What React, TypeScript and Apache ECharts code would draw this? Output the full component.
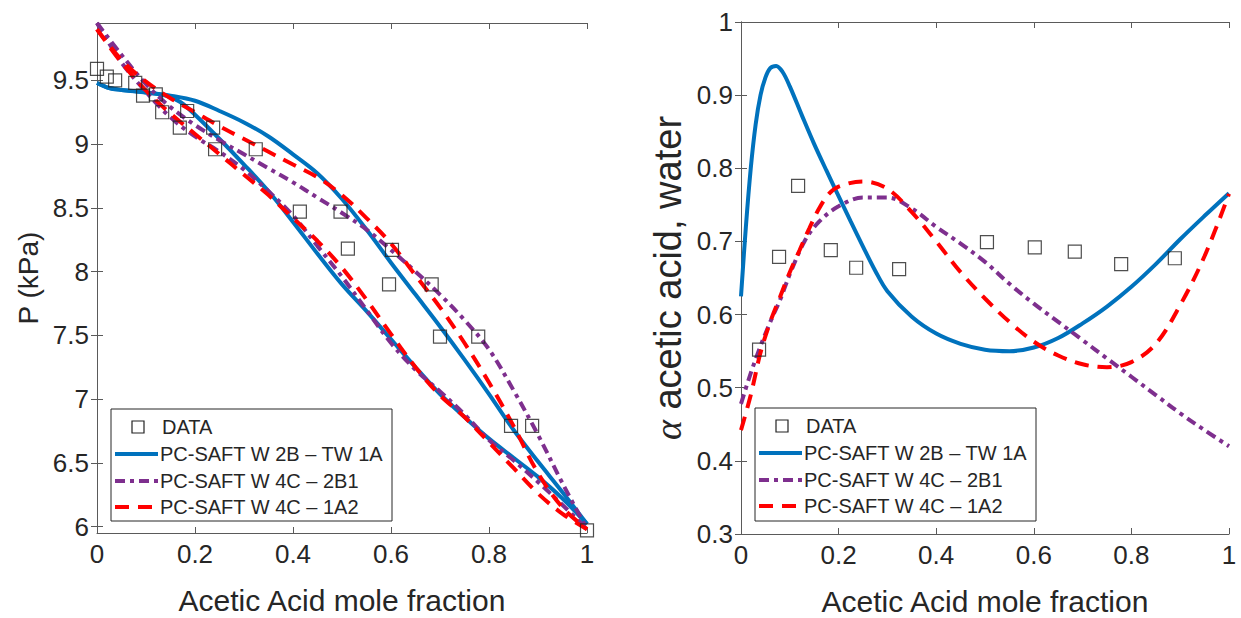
import React, { useEffect, useRef } from "react";
import * as echarts from "echarts";

// ---------- data: left panel (P-x-y) ----------
const pxyData: number[][] = [
  [0, 9.59], [0.02, 9.53], [0.037, 9.5], [0.078, 9.48], [0.094, 9.38], [0.12, 9.39],
  [0.133, 9.25], [0.184, 9.26], [0.169, 9.13], [0.237, 9.13], [0.241, 8.96], [0.324, 8.96],
  [0.414, 8.47], [0.497, 8.47], [0.512, 8.18], [0.602, 8.17], [0.596, 7.9], [0.683, 7.9],
  [0.7, 7.49], [0.778, 7.49], [0.845, 6.79], [0.888, 6.79], [1.0, 5.97],
];
const blueBubble: number[][] = [
  [0, 9.48], [0.025, 9.44], [0.05, 9.425], [0.1, 9.405], [0.15, 9.38], [0.2, 9.34], [0.25, 9.26],
  [0.3, 9.17], [0.35, 9.06], [0.4, 8.92], [0.45, 8.77], [0.5, 8.57], [0.55, 8.33], [0.6, 8.07],
  [0.65, 7.82], [0.7, 7.57], [0.75, 7.31], [0.8, 7.04], [0.85, 6.76], [0.9, 6.51], [0.95, 6.27], [1, 6.02],
];
const blueDew: number[][] = [
  [0, 9.48], [0.025, 9.44], [0.05, 9.425], [0.1, 9.405], [0.14, 9.38], [0.17, 9.33], [0.2, 9.23],
  [0.25, 9.04], [0.3, 8.84], [0.35, 8.63], [0.4, 8.39], [0.45, 8.14], [0.5, 7.9], [0.55, 7.69],
  [0.6, 7.47], [0.65, 7.25], [0.7, 7.04], [0.75, 6.86], [0.8, 6.69], [0.85, 6.54], [0.9, 6.39], [0.95, 6.22], [1, 6.02],
];
const purpleBubble: number[][] = [
  [0, 9.95], [0.05, 9.7], [0.1, 9.47], [0.15, 9.29], [0.2, 9.15], [0.25, 9.03], [0.3, 8.92],
  [0.35, 8.81], [0.4, 8.7], [0.45, 8.58], [0.5, 8.46], [0.55, 8.33], [0.6, 8.17], [0.65, 8.0],
  [0.7, 7.82], [0.75, 7.62], [0.8, 7.39], [0.85, 7.07], [0.9, 6.72], [0.95, 6.34], [1, 5.98],
];
const purpleDew: number[][] = [
  [0, 9.95], [0.05, 9.64], [0.1, 9.41], [0.15, 9.21], [0.2, 9.06], [0.25, 8.94], [0.3, 8.8],
  [0.35, 8.63], [0.4, 8.44], [0.45, 8.2], [0.5, 7.96], [0.55, 7.7], [0.6, 7.44], [0.65, 7.23],
  [0.7, 7.06], [0.75, 6.88], [0.8, 6.68], [0.85, 6.52], [0.9, 6.35], [0.95, 6.17], [1, 5.98],
];
const redBubble: number[][] = [
  [0, 9.9], [0.05, 9.66], [0.1, 9.49], [0.15, 9.36], [0.2, 9.25], [0.25, 9.14], [0.3, 9.04],
  [0.35, 8.94], [0.4, 8.84], [0.45, 8.74], [0.5, 8.6], [0.55, 8.42], [0.6, 8.22], [0.65, 7.97],
  [0.7, 7.72], [0.75, 7.44], [0.8, 7.13], [0.85, 6.79], [0.9, 6.42], [0.95, 6.15], [1, 5.98],
];
const redDew: number[][] = [
  [0, 9.9], [0.05, 9.64], [0.1, 9.42], [0.15, 9.24], [0.2, 9.08], [0.25, 8.92], [0.3, 8.76],
  [0.35, 8.6], [0.4, 8.42], [0.45, 8.24], [0.5, 8.03], [0.55, 7.78], [0.6, 7.51], [0.65, 7.25],
  [0.7, 7.03], [0.75, 6.86], [0.8, 6.66], [0.85, 6.46], [0.9, 6.26], [0.95, 6.1], [1, 5.98],
];

// ---------- data: right panel (relative volatility) ----------
const alphaData: number[][] = [
  [0.037, 0.552], [0.078, 0.679], [0.117, 0.776], [0.184, 0.688], [0.236, 0.664], [0.324, 0.662],
  [0.504, 0.699], [0.602, 0.692], [0.684, 0.686], [0.779, 0.669], [0.889, 0.677],
];
const blueAlpha: number[][] = [
  [0, 0.625], [0.01, 0.72], [0.02, 0.8], [0.03, 0.86], [0.04, 0.9], [0.05, 0.924], [0.06, 0.937],
  [0.072, 0.94], [0.085, 0.932], [0.1, 0.912], [0.125, 0.872], [0.15, 0.833], [0.175, 0.797],
  [0.2, 0.762], [0.225, 0.727], [0.25, 0.693], [0.275, 0.66], [0.3, 0.632], [0.35, 0.597],
  [0.4, 0.574], [0.45, 0.56], [0.5, 0.552], [0.55, 0.55], [0.6, 0.555], [0.65, 0.568], [0.7, 0.588],
  [0.75, 0.611], [0.8, 0.638], [0.85, 0.669], [0.9, 0.703], [0.95, 0.735], [1, 0.766],
];
const purpleAlpha: number[][] = [
  [0, 0.478], [0.02, 0.52], [0.04, 0.557], [0.06, 0.59], [0.08, 0.62], [0.1, 0.655], [0.13, 0.7],
  [0.16, 0.727], [0.2, 0.748], [0.25, 0.76], [0.3, 0.76], [0.35, 0.745], [0.4, 0.72], [0.45, 0.697],
  [0.5, 0.672], [0.55, 0.642], [0.6, 0.615], [0.65, 0.59], [0.7, 0.565], [0.75, 0.54], [0.8, 0.515],
  [0.85, 0.49], [0.9, 0.465], [0.95, 0.442], [1, 0.42],
];
const redAlpha: number[][] = [
  [0, 0.442], [0.02, 0.49], [0.04, 0.548], [0.06, 0.59], [0.08, 0.624], [0.1, 0.658], [0.12, 0.688],
  [0.14, 0.718], [0.16, 0.745], [0.18, 0.765], [0.2, 0.775], [0.25, 0.782], [0.3, 0.772],
  [0.35, 0.74], [0.4, 0.7], [0.45, 0.658], [0.5, 0.622], [0.55, 0.59], [0.6, 0.563], [0.65, 0.544],
  [0.7, 0.532], [0.75, 0.528], [0.8, 0.535], [0.85, 0.56], [0.9, 0.613], [0.95, 0.68], [1, 0.765],
];

// ---------- ticks / labels ----------
const pTicks = [6, 6.5, 7, 7.5, 8, 8.5, 9, 9.5];
const legendLabels = [
  "DATA",
  "PC-SAFT W 2B – TW 1A",
  "PC-SAFT W 4C – 2B1",
  "PC-SAFT W 4C – 1A2",
];
const xTitle = "Acetic Acid mole fraction";
const pTitle = "P (kPa)";
const alphaTitle = "{a|α} acetic acid, water";

const BLUE = "#0072BD";
const PURPLE = "#7E2F8E";
const RED = "#FF0000";
const AX = "#262626";
const FONT = "Liberation Sans, Arial, sans-serif";

const lineStyles = [
  { color: BLUE, type: "solid" as any },
  { color: PURPLE, type: [10, 5, 4, 5] },
  { color: RED, type: [14, 9] },
];

function makeLegend(bx: number, by: number, w: number, h: number) {
  const rows = [by + 18, by + 45, by + 72, by + 98];
  const children: any[] = [
    { type: "rect", shape: { x: bx, y: by, width: w, height: h }, style: { fill: "#fff", stroke: AX, lineWidth: 1 } },
    {
      type: "rect",
      shape: { x: bx + 21, y: rows[0] - 6, width: 12, height: 12 },
      style: { fill: "none", stroke: "#222", lineWidth: 1.2 },
    },
  ];
  for (let i = 1; i < 4; i++) {
    const ls = lineStyles[i - 1];
    children.push({
      type: "line",
      shape: { x1: bx + 4, y1: rows[i], x2: bx + 47, y2: rows[i] },
      style: { stroke: ls.color, lineWidth: 4, lineDash: ls.type === "solid" ? null : ls.type },
    });
  }
  legendLabels.forEach((t, i) => {
    children.push({
      type: "text",
      style: {
        text: t,
        x: bx + (i === 0 ? 51 : 49),
        y: rows[i],
        fontSize: 20,
        fontFamily: FONT,
        fill: AX,
        verticalAlign: "middle",
        align: "left",
      },
    });
  });
  return { type: "group", z: 100, children };
}

function axisPair(grid: number, min: number, max: number, interval: number | null, custom: number[] | null, isX: boolean, name: any) {
  const base: any = {
    gridIndex: grid,
    type: "value",
    min,
    max,
    splitLine: { show: false },
    axisLine: { show: true, lineStyle: { color: "#5a5a5a", width: 1 } },
    axisTick: { show: true, inside: true, length: 6, lineStyle: { color: "#5a5a5a" } },
  };
  if (interval != null) base.interval = interval;
  if (custom) {
    base.axisTick.customValues = custom;
  }
  const main: any = {
    ...base,
    position: isX ? "bottom" : "left",
    axisLabel: {
      show: true,
      fontSize: 26,
      fontFamily: FONT,
      color: AX,
      margin: 8,
      ...(custom ? { customValues: custom } : {}),
    },
    ...name,
  };
  const mirror: any = {
    ...base,
    position: isX ? "top" : "right",
    axisLabel: { show: false, ...(custom ? { customValues: custom } : {}) },
  };
  return [main, mirror];
}

export default function App() {
  const ref = useRef<HTMLDivElement>(null);
  useEffect(() => {
    if (!ref.current) return;
    const chart = echarts.init(ref.current, null, { renderer: "svg" });

    const xName = {
      name: xTitle,
      nameLocation: "middle",
      nameGap: 52,
      nameTextStyle: { fontSize: 30, fontFamily: FONT, color: AX },
    };
    const [x0, x1] = axisPair(0, 0, 1, 0.2, null, true, xName);
    const [x2, x3] = axisPair(1, 0, 1, 0.2, null, true, xName);
    const [y0, y1] = axisPair(0, 5.95, 9.95, null, pTicks, false, {
      name: pTitle,
      nameLocation: "middle",
      nameGap: 55,
      nameTextStyle: { fontSize: 28, fontFamily: FONT, color: AX },
    });
    const [y2, y3] = axisPair(1, 0.3, 1, 0.1, null, false, {
      name: alphaTitle,
      nameLocation: "middle",
      nameGap: 54,
      nameTextStyle: {
        fontSize: 38,
        fontFamily: FONT,
        color: AX,
        rich: { a: { fontSize: 38, fontStyle: "italic", fontFamily: "Liberation Serif, serif", color: AX } },
      },
    });

    const lineSeries = (data: number[][], idx: number, xi: number, yi: number, name: string) => ({
      type: "line",
      name,
      data,
      xAxisIndex: xi,
      yAxisIndex: yi,
      showSymbol: false,
      symbol: "none",
      smooth: 0.35,
      lineStyle: { color: lineStyles[idx].color, width: 4, type: lineStyles[idx].type },
      z: 3,
    });
    const scatter = (data: number[][], xi: number, yi: number) => ({
      type: "scatter",
      name: legendLabels[0],
      data,
      xAxisIndex: xi,
      yAxisIndex: yi,
      symbol: "rect",
      symbolSize: 13,
      itemStyle: { color: "rgba(0,0,0,0)", borderColor: "#222", borderWidth: 1.2 },
      z: 5,
    });

    chart.setOption({
      animation: false,
      backgroundColor: "#fff",
      grid: [
        { left: 97, top: 23, width: 490, height: 510, containLabel: false, outerBoundsMode: "none" },
        { left: 741, top: 22, width: 488, height: 512, containLabel: false, outerBoundsMode: "none" },
      ],
      xAxis: [x0, x1, x2, x3],
      yAxis: [y0, y1, y2, y3],
      series: [
        lineSeries(blueBubble, 0, 0, 0, legendLabels[1]),
        lineSeries(blueDew, 0, 0, 0, legendLabels[1]),
        lineSeries(purpleBubble, 1, 0, 0, legendLabels[2]),
        lineSeries(purpleDew, 1, 0, 0, legendLabels[2]),
        lineSeries(redBubble, 2, 0, 0, legendLabels[3]),
        lineSeries(redDew, 2, 0, 0, legendLabels[3]),
        scatter(pxyData, 0, 0),
        lineSeries(blueAlpha, 0, 2, 2, legendLabels[1]),
        lineSeries(purpleAlpha, 1, 2, 2, legendLabels[2]),
        lineSeries(redAlpha, 2, 2, 2, legendLabels[3]),
        scatter(alphaData, 2, 2),
      ],
      graphic: [makeLegend(111, 409, 281, 112), makeLegend(755, 408, 281, 113)],
    });
    return () => chart.dispose();
  }, []);
  return (
    <div
      ref={ref}
      style={{ position: "fixed", left: 0, top: 0, width: 1241, height: 618, background: "#fff" }}
    />
  );
}
